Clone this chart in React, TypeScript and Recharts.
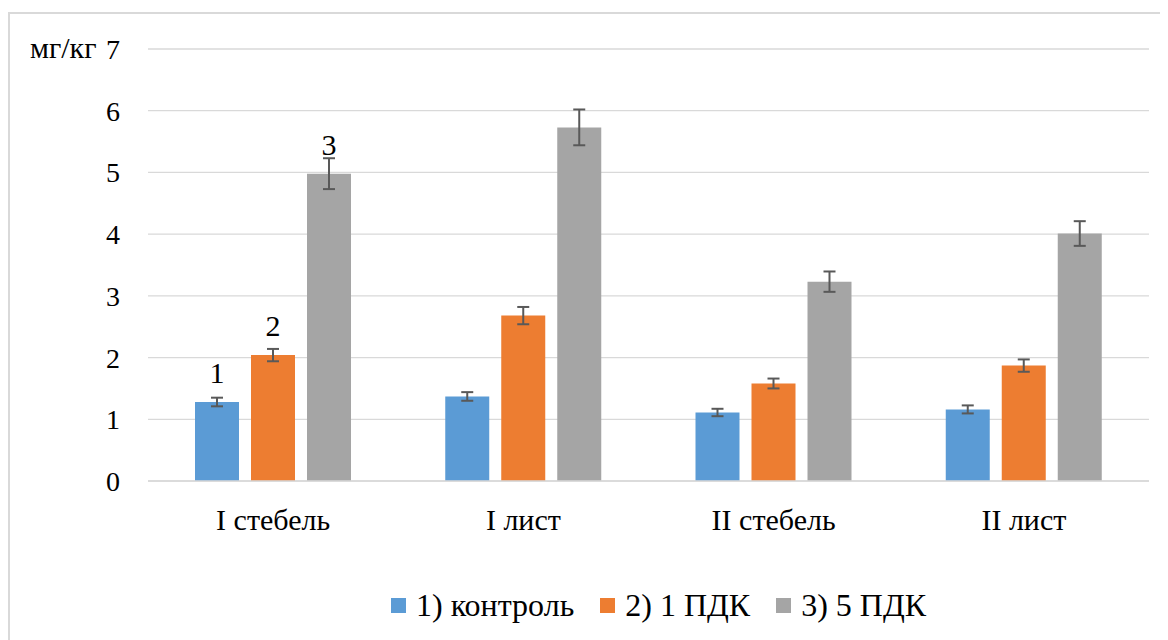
import React from 'react';
import { BarChart, Bar, XAxis, YAxis, CartesianGrid, ErrorBar, LabelList, Legend, Label } from 'recharts';

const categories = ['I стебель', 'I лист', 'II стебель', 'II лист'];
const control = [1.28, 1.37, 1.11, 1.16];
const controlErr = [0.07, 0.07, 0.06, 0.065];
const pdk1 = [2.04, 2.68, 1.58, 1.87];
const pdk1Err = [0.1, 0.14, 0.08, 0.1];
const pdk5 = [4.98, 5.73, 3.23, 4.01];
const pdk5Err = [0.25, 0.29, 0.165, 0.2];
const label1 = ['1', '', '', ''];
const label2 = ['2', '', '', ''];
const label3 = ['3', '', '', ''];
const yTicks = [0, 1, 2, 3, 4, 5, 6, 7];
const seriesNames = ['1) контроль', '2) 1 ПДК', '3) 5 ПДК'];
const colors = ['#5B9BD5', '#ED7D31', '#A5A5A5'];
const unitLabel = 'мг/кг';

const data = categories.map((c, i) => ({
  name: c,
  s1: control[i], e1: controlErr[i], l1: label1[i],
  s2: pdk1[i], e2: pdk1Err[i], l2: label2[i],
  s3: pdk5[i], e3: pdk5Err[i], l3: label3[i],
}));

const FONT = '"Liberation Serif", "Times New Roman", serif';

const renderTopLabel = (props: any) => {
  const { x, y, width, value } = props;
  if (!value) return null;
  return (
    <text x={x + width / 2} y={y - 19} textAnchor="middle" fontSize={30} fontFamily={FONT} fill="#000">
      {value}
    </text>
  );
};

const LegendContent = () => (
  <div style={{ display: 'flex', alignItems: 'center', fontFamily: FONT, fontSize: 32, color: '#000', whiteSpace: 'nowrap', lineHeight: '36px' }}>
    {seriesNames.map((n, i) => (
      <div key={n} style={{ display: 'flex', alignItems: 'center', marginRight: i < 2 ? 26 : 0 }}>
        <span style={{ display: 'inline-block', width: 15, height: 15, background: colors[i], marginRight: 10 }} />
        <span>{n}</span>
      </div>
    ))}
  </div>
);

export default function App() {
  return (
    <div style={{ width: 1160, height: 628, paddingTop: 4, overflow: 'hidden' }}>
      <div style={{ borderLeft: '2px solid #d9d9d9', borderTop: '2px solid #d9d9d9', width: 1200, height: 700, background: '#fff' }}>
        <BarChart
          width={1158}
          height={626}
          data={data}
          margin={{ top: 35, right: 19, left: 0, bottom: 63 }}
          barGap={12}
        >
          <CartesianGrid vertical={false} stroke="#d9d9d9" strokeWidth={1.3} />
          <XAxis
            dataKey="name"
            height={60}
            tickLine={false}
            axisLine={{ stroke: '#d9d9d9', strokeWidth: 1.3 }}
            tickSize={0}
            tickMargin={28}
            tick={{ fontSize: 30, fontFamily: FONT, fill: '#000' }}
            interval={0}
          />
          <YAxis
            width={138}
            domain={[0, 7]}
            ticks={yTicks}
            interval={0}
            axisLine={false}
            tickLine={false}
            tickSize={0}
            tickMargin={28}
            tick={{ fontSize: 28, fontFamily: FONT, fill: '#000' }}
          >
            <Label
              content={(p: any) => (
                <text x={20} y={(p.viewBox?.y ?? 35) + 9} fontSize={30} fontFamily={FONT} fill="#000">
                  {unitLabel}
                </text>
              )}
            />
          </YAxis>
          <Legend
            content={<LegendContent />}
            wrapperStyle={{ position: 'absolute', top: 573, left: 381, width: 'auto' }}
          />
          <Bar dataKey="s1" name={seriesNames[0]} fill={colors[0]} barSize={44} isAnimationActive={false}>
            <ErrorBar dataKey="e1" width={6} stroke="#595959" strokeWidth={2} direction="y" />
            <LabelList dataKey="l1" content={renderTopLabel} />
          </Bar>
          <Bar dataKey="s2" name={seriesNames[1]} fill={colors[1]} barSize={44} isAnimationActive={false}>
            <ErrorBar dataKey="e2" width={6} stroke="#595959" strokeWidth={2} direction="y" />
            <LabelList dataKey="l2" content={renderTopLabel} />
          </Bar>
          <Bar dataKey="s3" name={seriesNames[2]} fill={colors[2]} barSize={44} isAnimationActive={false}>
            <ErrorBar dataKey="e3" width={6} stroke="#595959" strokeWidth={2} direction="y" />
            <LabelList dataKey="l3" content={renderTopLabel} />
          </Bar>
        </BarChart>
      </div>
    </div>
  );
}
